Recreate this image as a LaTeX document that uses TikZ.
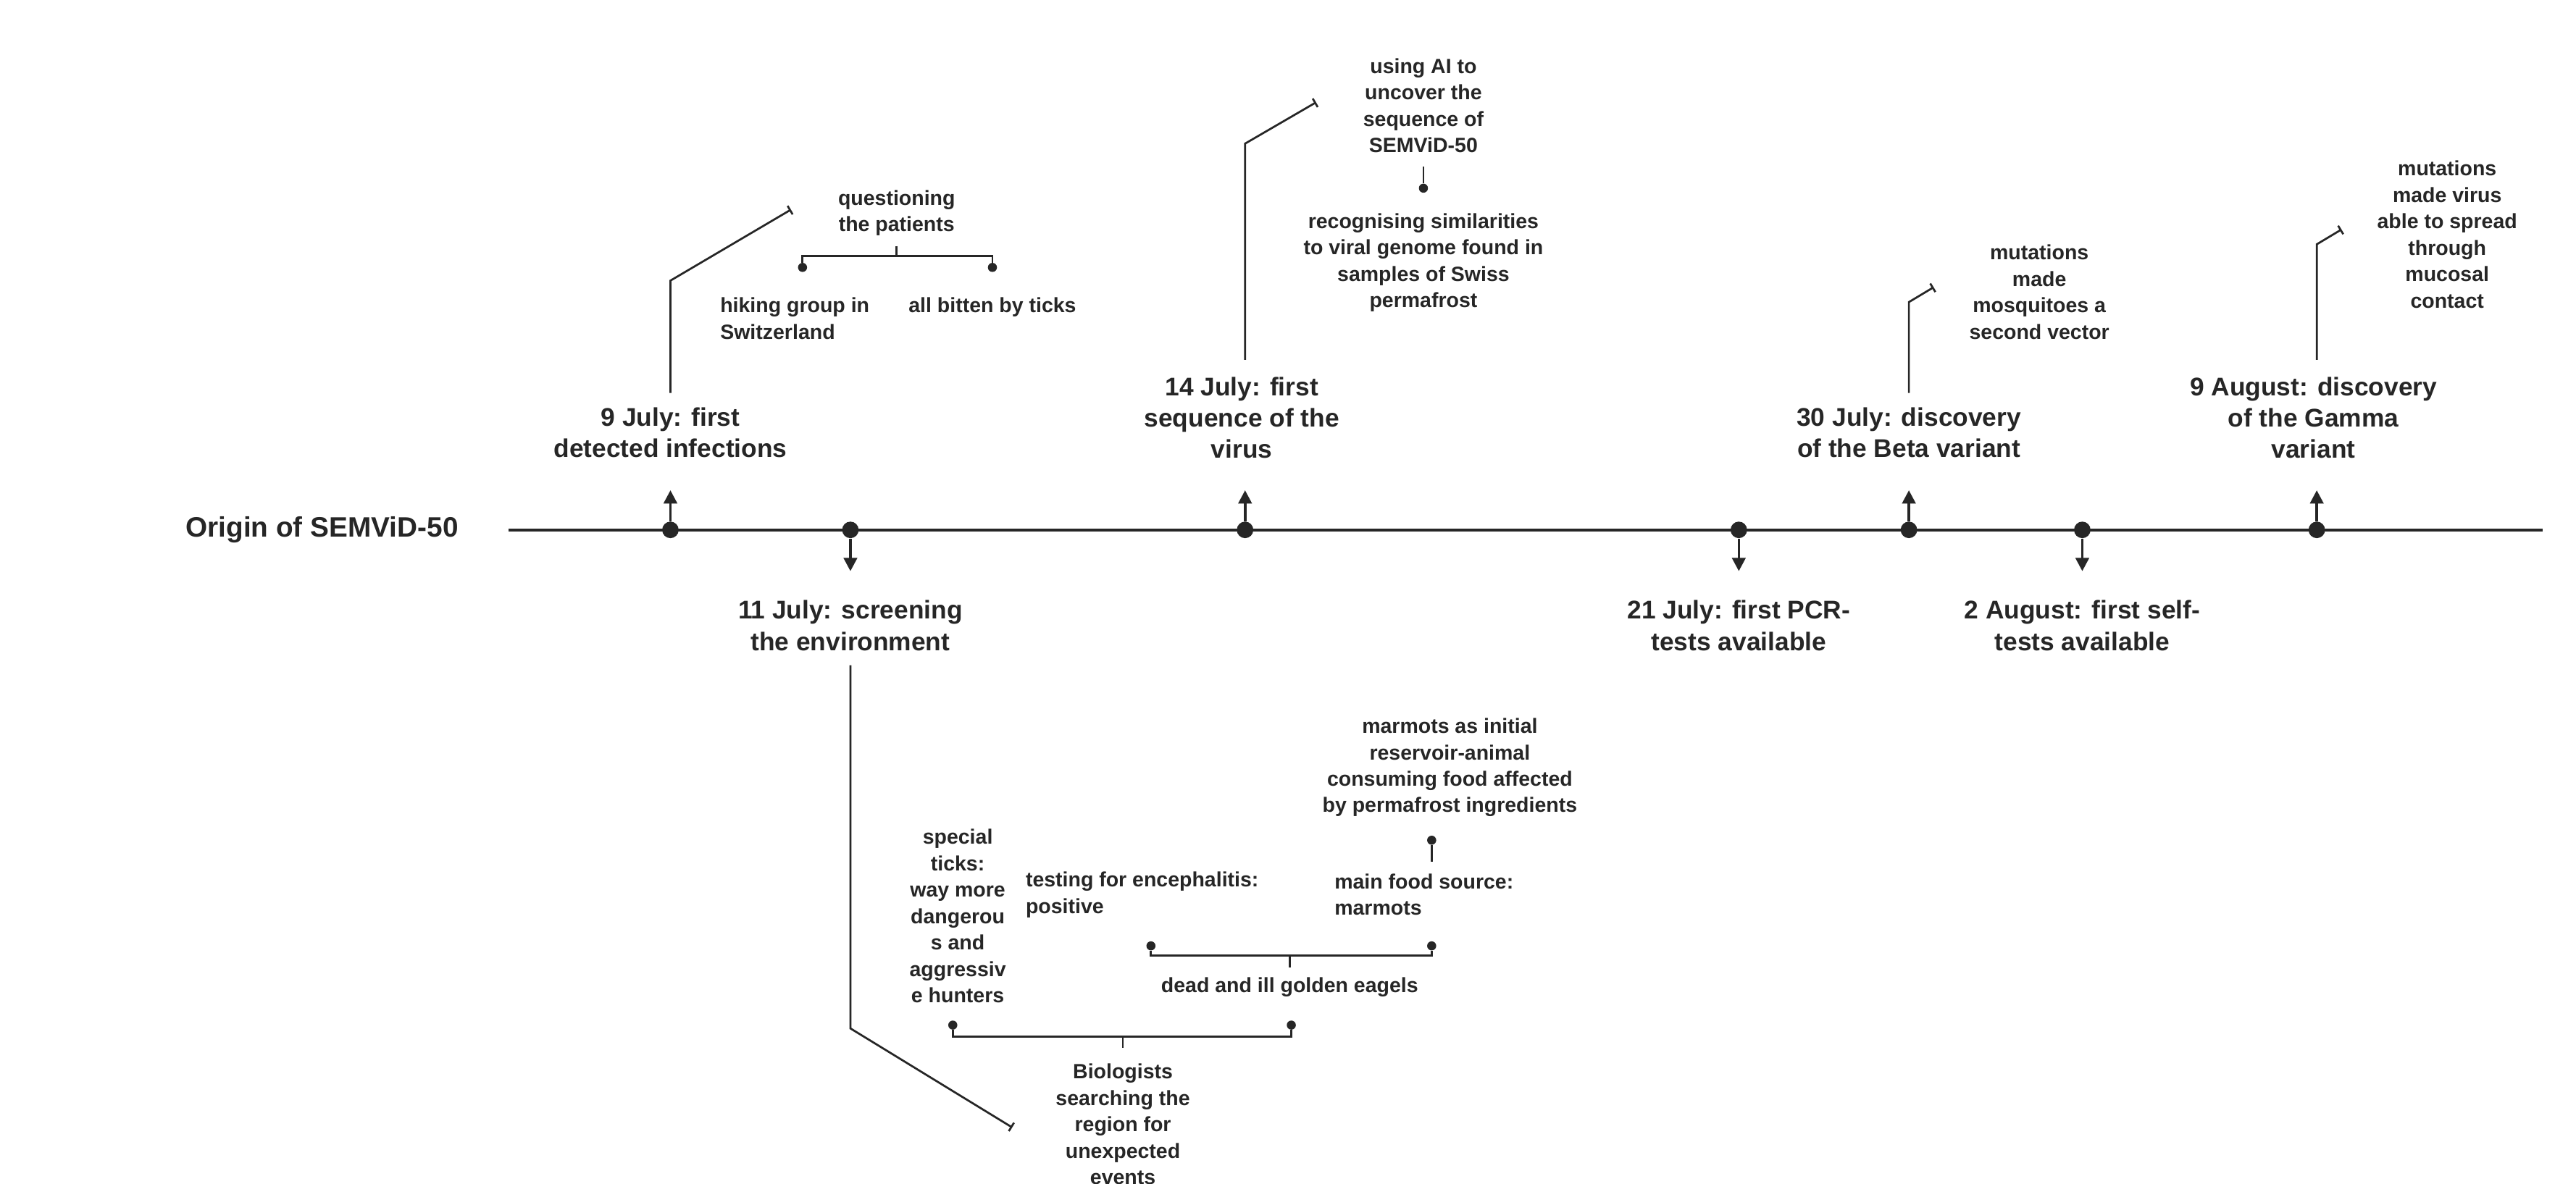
\documentclass[tikz,border=0pt]{standalone}
\usepackage{fontspec}
\setmainfont{Liberation Sans}
\usetikzlibrary{arrows.meta}
\begin{document}
\begin{tikzpicture}[x=1pt,y=-1pt,
  ln/.style={line width=1.6pt,color=black!85},
  big/.style={font=\fontsize{15.5}{19}\selectfont\bfseries,align=center,text=black!85,inner sep=0pt},
  sm/.style={font=\fontsize{12.5}{16}\selectfont\bfseries,align=center,text=black!85,inner sep=0pt},
  sml/.style={sm,align=left,anchor=west},
  dot/.style={circle,fill=black!85,inner sep=0pt,minimum size=10pt},
  sdot/.style={circle,fill=black!85,inner sep=0pt,minimum size=5.5pt},
  up/.style={ln,-{Triangle[length=8pt,width=8pt]}},
  bar/.style={ln,line width=1.2pt,-{Bar[width=6pt]}}]
\useasboundingbox (0,0) rectangle (1560,717);
\node[big,font=\fontsize{17}{20}\selectfont\bfseries] (title) at (195,321) {Origin of SEMViD-50};
\coordinate (tl) at (308,321); \coordinate (tr) at (1540,321);
\draw[ln] (tl) -- (tr);
% event dots
\foreach \n/\x in {a/406,b/515,c/754,d/1053,e/1156,f/1261,g/1403}{\node[dot] (\n) at (\x,321) {};}
\foreach \n/\x in {a/406,c/754,e/1156,g/1403}{\coordinate (\n u) at (\x,297); \draw[up] (\n) -- (\n u);}
\foreach \n/\x in {b/515,d/1053,f/1261}{\coordinate (\n d) at (\x,346); \draw[up] (\n) -- (\n d);}
% labels
\node[big] (la) at (406,262) {9 July: first\\detected infections};
\node[big] (lb) at (515,379) {11 July: screening\\the environment};
\node[big] (lc) at (752,253) {14 July: first\\sequence of the\\virus};
\node[big] (ld) at (1053,379) {21 July: first PCR-\\tests available};
\node[big] (le) at (1156,262) {30 July: discovery\\of the Beta variant};
\node[big] (lf) at (1261,379) {2 August: first self-\\tests available};
\node[big] (lg) at (1401,253) {9 August: discovery\\of the Gamma\\variant};
% connectors
\coordinate (a1) at (406,238); \coordinate (a2) at (406,170); \coordinate (a3) at (479,127);
\draw[bar] (a1) -- (a2) -- (a3);
\coordinate (c1) at (754,218); \coordinate (c2) at (754,87); \coordinate (c3) at (797,62);
\draw[bar] (c1) -- (c2) -- (c3);
\coordinate (e1) at (1156,238); \coordinate (e2) at (1156,183); \coordinate (e3) at (1171,174);
\draw[bar] (e1) -- (e2) -- (e3);
\coordinate (g1) at (1403,218); \coordinate (g2) at (1403,148); \coordinate (g3) at (1418,139);
\draw[bar] (g1) -- (g2) -- (g3);
\coordinate (b1) at (515,403); \coordinate (b2) at (515,623); \coordinate (b3) at (613,683);
\draw[bar] (b1) -- (b2) -- (b3);
% 9 July details
\node[sm] (q) at (543,129) {questioning\\the patients};
\node[sdot] (q1) at (486,162) {}; \node[sdot] (q2) at (601,162) {};
\coordinate (qt) at (543,149);
\draw[ln,line width=1.2pt] (q1) |- (543,155) -| (q2); \draw[ln,line width=1.2pt] (qt) -- (543,155);
\node[sml] (h) at (436,193) {hiking group in\\Switzerland};
\node[sm] (t) at (601,186) {all bitten by ticks};
% 14 July details
\node[sm] (ai) at (862,64) {using AI to\\uncover the\\sequence of\\SEMViD-50};
\node[sdot] (aid) at (862,114) {}; \coordinate (ait) at (862,101);
\draw[ln,line width=1.2pt] (ait) -- (aid);
\node[sm] (rec) at (862,159) {recognising similarities\\to viral genome found in\\samples of Swiss\\permafrost};
% 30 July / 9 Aug
\node[sm] (mos) at (1235,177) {mutations\\made\\mosquitoes a\\second vector};
\node[sm] (muc) at (1482,142) {mutations\\made virus\\able to spread\\through\\mucosal\\contact};
% bottom
\node[sm] (mar) at (878,465) {marmots as initial\\reservoir-animal\\consuming food affected\\by permafrost ingredients};
\node[sdot] (mard) at (867,509) {}; \coordinate (mart) at (867,522);
\draw[ln,line width=1.2pt] (mard) -- (mart);
\node[sml] (food) at (808,542) {main food source:\\marmots};
\node[sml] (enc) at (621,542) {testing for encephalitis:\\positive};
\node[sdot] (e1d) at (697,573) {}; \node[sdot] (e2d) at (867,573) {};
\draw[ln,line width=1.2pt] (e1d) |- (781,579) -| (e2d); \coordinate (et) at (781,586);
\draw[ln,line width=1.2pt] (781,579) -- (et);
\node[sm] (eag) at (781,598) {dead and ill golden eagels};
\node[sm] (tick) at (580,555) {special\\ticks:\\way more\\dangerou\\s and\\aggressiv\\e hunters};
\node[sdot] (b1d) at (577,621) {}; \node[sdot] (b2d) at (782,621) {};
\draw[ln,line width=1.2pt] (b1d) |- (680,628) -| (b2d); \coordinate (bt) at (680,635);
\draw[ln,line width=1.2pt] (680,628) -- (bt);
\node[sm] (bio) at (680,681) {Biologists\\searching the\\region for\\unexpected\\events};
\end{tikzpicture}
\end{document}
